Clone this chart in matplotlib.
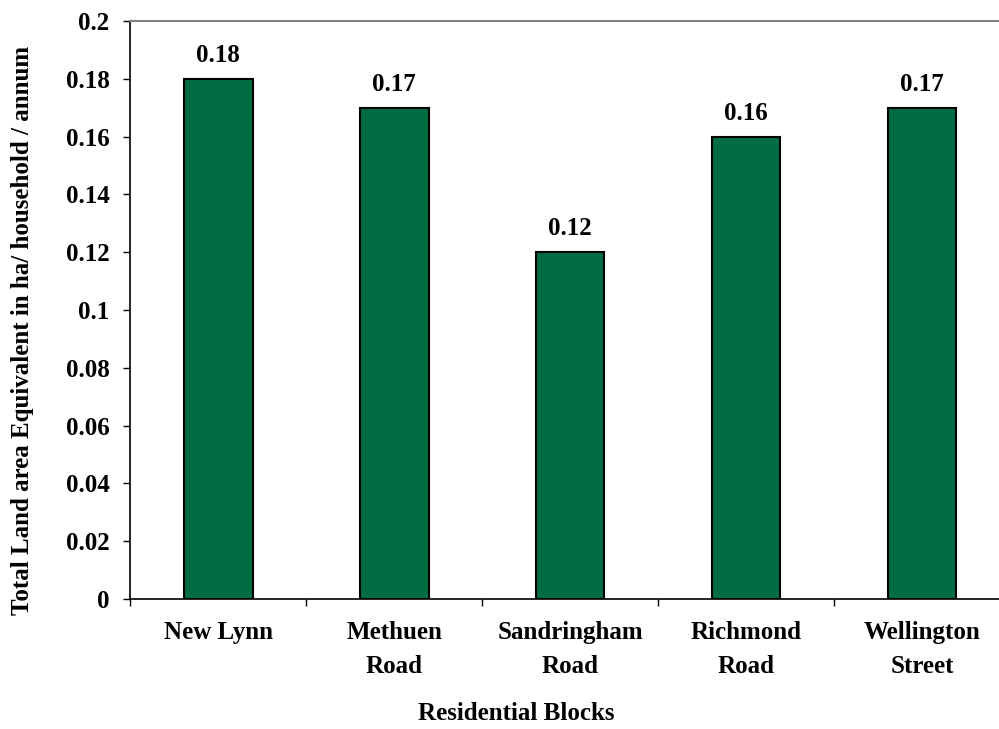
import numpy as np
import matplotlib
matplotlib.use("Agg")
import matplotlib.pyplot as plt

blocks = ["New Lynn", "Methuen\nRoad", "Sandringham\nRoad", "Richmond\nRoad", "Wellington\nStreet"]
land_area = [0.18, 0.17, 0.12, 0.16, 0.17]
y_ticks = [0, 0.02, 0.04, 0.06, 0.08, 0.1, 0.12, 0.14, 0.16, 0.18, 0.2]
y_tick_labels = ["0", "0.02", "0.04", "0.06", "0.08", "0.1", "0.12", "0.14", "0.16", "0.18", "0.2"]

plt.rcParams["font.family"] = ["Liberation Serif", "DejaVu Serif"]
plt.rcParams["font.weight"] = "bold"

fig = plt.figure(figsize=(9.99, 7.29), dpi=100)
# plot area is slightly wider than the picture, like the clipped original
ax = fig.add_axes([0.1305, 0.1783, 0.8805, 0.7929])

x = np.arange(len(blocks))
ax.bar(x, land_area, width=0.39, color="#016D42", edgecolor="black", linewidth=1.5, zorder=3)

for xi, v in zip(x, land_area):
    ax.text(xi, v + 0.0058, f"{v:.2f}", ha="center", va="baseline", fontsize=18, fontweight="bold")

ax.set_xlim(-0.5, len(blocks) - 0.5)
ax.set_ylim(0, 0.2)
ax.set_yticks(y_ticks)
ax.set_yticklabels(y_tick_labels, fontsize=18, fontweight="bold")
ax.tick_params(axis="y", direction="out", length=5, width=1, pad=10)

ax.set_xticks(x)
ax.set_xticklabels(blocks, fontsize=18, fontweight="bold", linespacing=1.6)
ax.tick_params(axis="x", which="major", length=0, pad=16)
ax.set_xticks(np.arange(len(blocks) + 1) - 0.5, minor=True)
ax.tick_params(axis="x", which="minor", direction="out", length=5, width=1)

ax.spines["top"].set_color("#808080")
ax.spines["top"].set_linewidth(1.5)
ax.spines["right"].set_visible(False)
ax.spines["left"].set_linewidth(1.2)
ax.spines["bottom"].set_linewidth(1.2)

fig.text(0.517, 0.021, "Residential Blocks", ha="center", va="center", fontsize=18, fontweight="bold")
fig.text(0.023, 0.547, "Total Land area Equivalent in ha/ household / annum", ha="center", va="center",
         rotation=90, fontsize=18, fontweight="bold")

fig.savefig("out.png", dpi=100)
